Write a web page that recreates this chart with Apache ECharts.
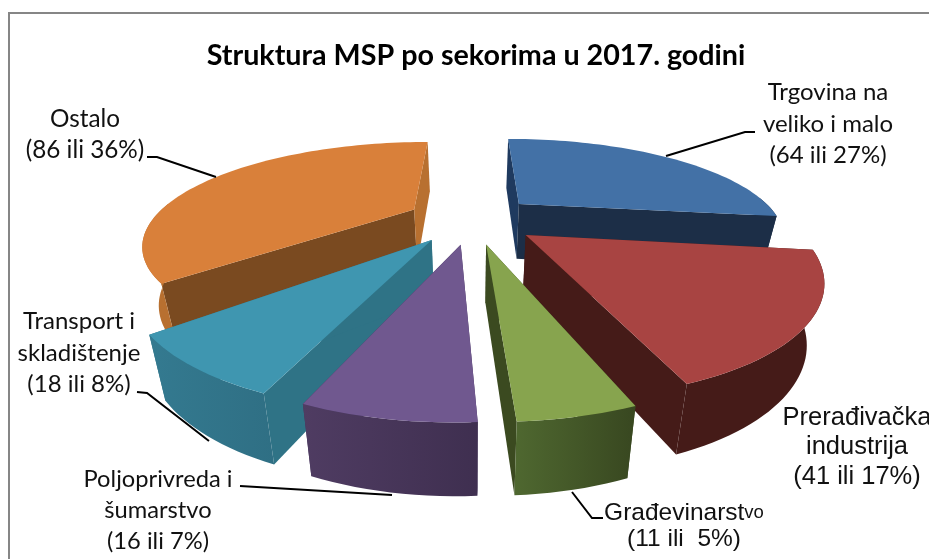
<!DOCTYPE html>
<html><head><meta charset="utf-8">
<style>html,body{margin:0;padding:0;background:#fff}#c{width:929px;height:559px}</style>
<script src="https://cdn.jsdelivr.net/npm/echarts@6/dist/echarts.min.js"></script>
</head><body><div id="c"></div>
<script>
var categories = ['Trgovina na veliko i malo','Prerađivačka industrija','Građevinarstvo','Poljoprivreda i šumarstvo','Transport i skladištenje','Ostalo'];
var values = [64,41,11,16,18,86];
var percents = [27,17,5,7,8,36];
var titleText = 'Struktura MSP po sekorima u 2017. godini';

var tops      = ['#4371a6','#a84442','#87a44e','#70588f','#3f96b0','#d9803a'];
var firstWall = ['#1f3a5f','#451b18','#3b4a20','#42325a','#2f7386','#7a4a20'];
var lastWall  = ['#1c2e47','#451b18','#3b4a20','#42325a','#2f7386','#b87030'];
var outerL    = ['#1c2e47','#451b18','#4f6830','#4f3c62','#347a90','#b87030'];
var outerR    = ['#1c2e47','#451b18','#384720','#3f2f50','#2f6f84','#b87030'];
var drawOrder = [5,0,1,4,3,2];

// projection of the tilted, exploded pie
var cx=472, cy=219, Rx=298, Ry=109, persp=0.38, explode=0.22, radius=0.875;
function proj(X,Y){var s=1/(1+persp*Y);return {x:cx+X*Rx*Math.pow(s,0.95),y:cy-Y*Ry*s,s:s,Y:Y};}
function low(p){return [cx+(p.x-cx)*0.95, p.y+31+25*p.s];}
function xy(p){return [p.x,p.y];}

var total=values.reduce(function(a,b){return a+b;},0);
var startA=[],acc=0;
values.forEach(function(v){startA.push(acc/total*2*Math.PI);acc+=v;});

function renderSlice(params,api){
  var i=api.value(0), a0=startA[i], a1=a0+values[i]/total*2*Math.PI, m=(a0+a1)/2;
  var ox=explode*Math.sin(m), oy=explode*Math.cos(m);
  var apex=proj(ox,oy), rim=[], front=[], n=Math.max(6,Math.round((a1-a0)/0.03));
  for(var k=0;k<=n;k++){
    var t=a0+(a1-a0)*k/n, p=proj(ox+radius*Math.sin(t),oy+radius*Math.cos(t));
    rim.push(p);
    if(Math.cos(t)<0.08) front.push(p);
  }
  var first=rim[0], last=rim[n], kids=[];
  function poly(pts,fill){kids.push({type:'polygon',shape:{points:pts},style:{fill:fill,stroke:null}});}
  poly([xy(apex),xy(first),low(first),low(apex)],firstWall[i]);
  poly([xy(apex),xy(last),low(last),low(apex)],lastWall[i]);
  if(front.length>1){
    poly(front.map(xy).concat(front.map(low).reverse()),{type:'linear',x:0,y:0,x2:1,y2:0,colorStops:[{offset:0,color:outerL[i]},{offset:1,color:outerR[i]}]});
  }
  poly([xy(apex)].concat(rim.map(xy)),tops[i]);
  return {type:'group',children:kids};
}

var lato='Lato', arial='"Liberation Sans"';
var labelCfg=[
 {x:828,y:124,font:lato,size:24,lh:31.5,t:'Trgovina na\nveliko i malo\n('+values[0]+' ili '+percents[0]+'%)'},
 {x:857,y:447,font:arial,size:25.5,lh:29.5,t:'Prerađivačka\nindustrija\n('+values[1]+' ili '+percents[1]+'%)'},
 {x:684,y:526,font:arial,size:24.5,lh:26,rich:true,t:'Građevinarst{s|vo}\n('+values[2]+' ili  '+percents[2]+'%)'},
 {x:158,y:510,font:lato,size:23.7,lh:31,t:'Poljoprivreda i\nšumarstvo\n('+values[3]+' ili '+percents[3]+'%)'},
 {x:79,y:353,font:lato,size:24,lh:31.5,t:'Transport i\nskladištenje\n('+values[4]+' ili '+percents[4]+'%)'},
 {x:85,y:135,font:lato,size:24.3,lh:31,t:'Ostalo\n('+values[5]+' ili '+percents[5]+'%)'}
];
var leaders=[
 [[666,156],[745,132],[755,132]],
 [[216,177],[157,157],[147,157]],
 [[209,441],[147,393],[137,392]],
 [[392,495],[240,486]],
 [[572,492],[592,518],[603,518]]
];
var graphics=[
 {type:'polyline',shape:{points:[[9,559],[9,13],[929,13]]},style:{stroke:'#868686',lineWidth:2,fill:null},z:1}
];
leaders.forEach(function(pts){graphics.push({type:'polyline',shape:{points:pts},style:{stroke:'#000',lineWidth:2,fill:null},z:10});});
labelCfg.forEach(function(l){
  var st={text:l.t,x:l.x,y:l.y,align:'center',verticalAlign:'middle',fontFamily:l.font,fontSize:l.size,lineHeight:l.lh,fill:'#111'};
  if(l.rich){st.rich={s:{fontFamily:l.font,fontSize:18.5,fill:'#111',lineHeight:l.lh}};}
  graphics.push({type:'text',style:st,z:11});
});

var chart=echarts.init(document.getElementById('c'),null,{renderer:'canvas'});
chart.setOption({
  animation:false,
  backgroundColor:'#fff',
  title:{text:titleText,left:471,top:36,textAlign:'center',textStyle:{fontFamily:'Lato',fontWeight:'bold',fontSize:28.7,color:'#000'}},
  series:[{type:'custom',coordinateSystem:'none',renderItem:renderSlice,
    data:drawOrder.map(function(i){return {name:categories[i],value:[i,values[i]]};}),silent:true}],
  graphic:{elements:graphics}
});
</script></body></html>
